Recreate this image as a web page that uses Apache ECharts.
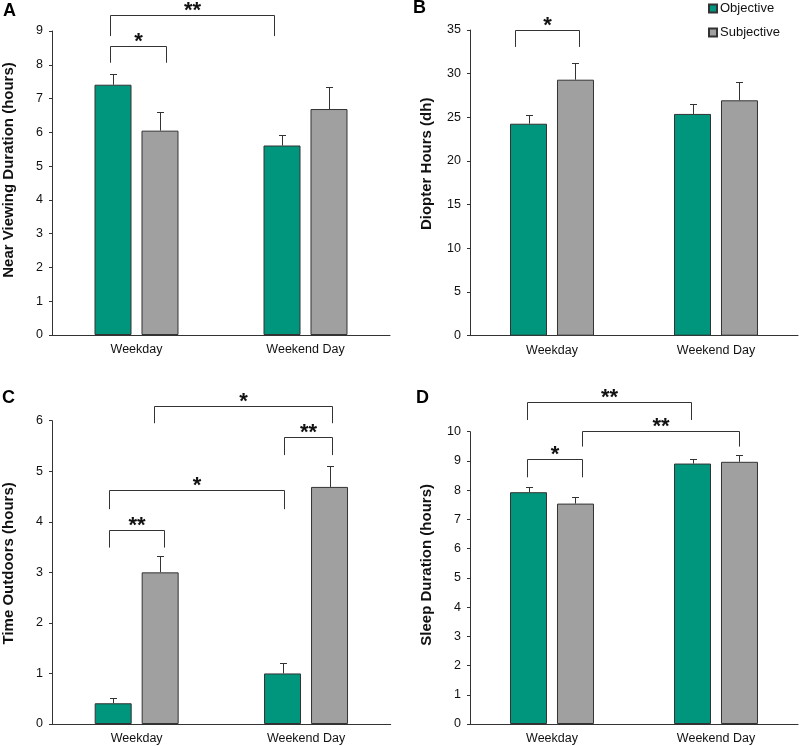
<!DOCTYPE html>
<html>
<head>
<meta charset="utf-8">
<script src="https://cdn.jsdelivr.net/npm/echarts@6/dist/echarts.min.js"></script>
<style>html,body{margin:0;padding:0;background:#fff}#main{width:800px;height:746px}</style>
</head>
<body>
<div id="main"></div>
<script>
// ---- data ----
const categories = ['Weekday', 'Weekend Day'];
const seriesNames = ['Objective', 'Subjective'];

// Panel A: Near viewing duration (hours)
const nearObjective = [7.41, 5.61];
const nearObjectiveErr = [0.32, 0.31];
const nearSubjective = [6.05, 6.69];
const nearSubjectiveErr = [0.55, 0.65];

// Panel B: Diopter hours (dh)
const dhObjective = [24.27, 25.39];
const dhObjectiveErr = [0.96, 1.18];
const dhSubjective = [29.31, 26.95];
const dhSubjectiveErr = [1.89, 2.05];

// Panel C: Time outdoors (hours)
const outObjective = [0.41, 1.00];
const outObjectiveErr = [0.10, 0.21];
const outSubjective = [3.00, 4.69];
const outSubjectiveErr = [0.33, 0.41];

// Panel D: Sleep duration (hours)
const sleepObjective = [7.93, 8.91];
const sleepObjectiveErr = [0.19, 0.17];
const sleepSubjective = [7.54, 8.97];
const sleepSubjectiveErr = [0.22, 0.22];

// significance brackets: [leftCat, leftFrac, rightCat, rightFrac, topValue, legBottomValue, label]
const bracketsA = [[0, -0.157, 0, 0.173, 8.56, 8.06, '*'], [0, -0.157, 1, -0.186, 9.46, 8.85, '**']];
const bracketsB = [[0, -0.226, 0, 0.165, 35.03, 33.06, '*']];
const bracketsC = [[0, -0.165, 0, 0.163, 3.84, 3.49, '**'], [0, -0.165, 1, -0.128, 4.63, 4.25, '*'],
                   [1, -0.128, 1, 0.153, 5.68, 5.32, '**'], [0, 0.105, 1, 0.153, 6.30, 5.95, '*']];
const bracketsD = [[0, -0.152, 0, 0.185, 9.06, 8.44, '*'], [0, -0.152, 1, -0.154, 11.03, 10.40, '**'],
                   [0, 0.185, 1, 0.140, 10.03, 9.49, '**']];

// ---- styles ----
const FONT = 'Liberation Sans, Arial, sans-serif';
const GREEN = '#00957d';
const GRAY = '#a0a0a0';
const DARK = '#333333';
const BAR_W = 37;
const GAP_RATIO = 0.27;
const OFFSET = (BAR_W + BAR_W * GAP_RATIO) / 2;

const panels = [
  {grid: {left: 52, top: 31, width: 338, height: 304}, yMax: 9, yInt: 1, name: 'Near Viewing Duration (hours)', shift: 26,
   obj: nearObjective, objErr: nearObjectiveErr, sub: nearSubjective, subErr: nearSubjectiveErr, br: bracketsA},
  {grid: {left: 470, top: 30, width: 328, height: 305.7}, yMax: 35, yInt: 5, name: 'Diopter Hours (dh)', shift: 38,
   obj: dhObjective, objErr: dhObjectiveErr, sub: dhSubjective, subErr: dhSubjectiveErr, br: bracketsB},
  {grid: {left: 46.7, top: 420.7, width: 344, height: 303.3}, yMax: 6, yInt: 1, name: 'Time Outdoors (hours)', shift: 18,
   obj: outObjective, objErr: outObjectiveErr, sub: outSubjective, subErr: outSubjectiveErr, br: bracketsC},
  {grid: {left: 470, top: 431.7, width: 328, height: 292.3}, yMax: 10, yInt: 1, name: 'Sleep Duration (hours)', shift: 26,
   obj: sleepObjective, objErr: sleepObjectiveErr, sub: sleepSubjective, subErr: sleepSubjectiveErr, br: bracketsD}
];

const grid = [], xAxis = [], yAxis = [], series = [];
panels.forEach((p, i) => {
  grid.push(p.grid);
  xAxis.push({
    type: 'category', gridIndex: i, data: categories,
    axisLine: {lineStyle: {color: DARK, width: 1}},
    axisTick: {show: false},
    axisLabel: {color: '#111', fontSize: 12.5, fontFamily: FONT, margin: 8}
  });
  yAxis.push({
    type: 'value', gridIndex: i, min: 0, max: p.yMax, interval: p.yInt,
    name: p.name, nameLocation: 'middle', nameGap: 36, nameRotate: 90,
    nameTextStyle: {fontSize: 15, fontWeight: 'bold', color: '#111', fontFamily: FONT, padding: [0, 0, 0, p.shift]},
    axisLine: {show: true, lineStyle: {color: DARK, width: 1}},
    axisTick: {show: true, length: 3, lineStyle: {color: DARK}},
    axisLabel: {color: '#111', fontSize: 12.5, fontFamily: FONT, margin: 9},
    splitLine: {show: false}
  });
  const mk = (name, vals, color) => ({
    type: 'bar', name: name, xAxisIndex: i, yAxisIndex: i, data: vals,
    barWidth: BAR_W, barGap: (GAP_RATIO * 100) + '%',
    itemStyle: {color: color, borderColor: DARK, borderWidth: 1},
    emphasis: {disabled: true}, animation: false
  });
  series.push(mk('Objective', p.obj, GREEN));
  series.push(mk('Subjective', p.sub, GRAY));
  // error bars
  const errData = [];
  categories.forEach((c, k) => {
    errData.push([k, p.obj[k], p.obj[k] + p.objErr[k], -1]);
    errData.push([k, p.sub[k], p.sub[k] + p.subErr[k], 1]);
  });
  series.push({
    type: 'custom', xAxisIndex: i, yAxisIndex: i, data: errData, silent: true, animation: false,
    encode: {x: 0, y: [1, 2]},
    renderItem: function (params, api) {
      const base = api.coord([api.value(0), api.value(1)]);
      const top = api.coord([api.value(0), api.value(2)]);
      const x = Math.round(base[0] + api.value(3) * OFFSET) + 0.5;
      const yb = base[1], yt = Math.round(top[1]) + 0.5;
      return {type: 'group', children: [
        {type: 'line', shape: {x1: x, y1: yb, x2: x, y2: yt}, style: {stroke: DARK, lineWidth: 1}},
        {type: 'line', shape: {x1: x - 3.5, y1: yt, x2: x + 3.5, y2: yt}, style: {stroke: DARK, lineWidth: 1}}
      ]};
    }
  });
  // brackets
  const br = p.br;
  series.push({
    type: 'custom', xAxisIndex: i, yAxisIndex: i, silent: true, animation: false, clip: false,
    data: br.map(b => [b[0], b[5]]),
    encode: {x: 0, y: 1},
    renderItem: function (params, api) {
      const b = br[params.dataIndex];
      const band = api.size([1, 0])[0];
      const pl = api.coord([b[0], b[4]]);
      const pr = api.coord([b[2], b[4]]);
      const xl = Math.round(pl[0] + b[1] * band) + 0.5;
      const xr = Math.round(pr[0] + b[3] * band) + 0.5;
      const yt = Math.round(pl[1]) + 0.5;
      const yb = api.coord([b[0], b[5]])[1];
      return {type: 'group', children: [
        {type: 'polyline', shape: {points: [[xl, yb], [xl, yt], [xr, yt], [xr, yb]]},
         style: {stroke: DARK, lineWidth: 1, fill: null}},
        {type: 'text', x: (xl + xr) / 2, y: yt - 5,
         style: {text: b[6], fontSize: 22, fontWeight: 'bold', fontFamily: FONT, fill: '#111',
                 align: 'center', verticalAlign: 'middle'}}
      ]};
    }
  });
});

const titleStyle = {fontSize: 18, fontWeight: 'bold', color: '#000', fontFamily: FONT};
const chart = echarts.init(document.getElementById('main'), null, {renderer: 'canvas'});
chart.setOption({
  animation: false,
  backgroundColor: '#fff',
  title: [
    {text: 'A', left: 3, top: 2, padding: 0, textStyle: titleStyle},
    {text: 'B', left: 413, top: -1, padding: 0, textStyle: titleStyle},
    {text: 'C', left: 2, top: 389, padding: 0, textStyle: titleStyle},
    {text: 'D', left: 416, top: 389, padding: 0, textStyle: titleStyle}
  ],
  legend: {
    data: seriesNames, orient: 'vertical', left: 708, top: 2, padding: 0,
    itemWidth: 8, itemHeight: 8, itemGap: 11, icon: 'rect',
    textStyle: {fontSize: 13, color: '#111', fontFamily: FONT, padding: [0, 0, 0, -2]}
  },
  grid: grid, xAxis: xAxis, yAxis: yAxis, series: series
});
</script>
</body>
</html>
